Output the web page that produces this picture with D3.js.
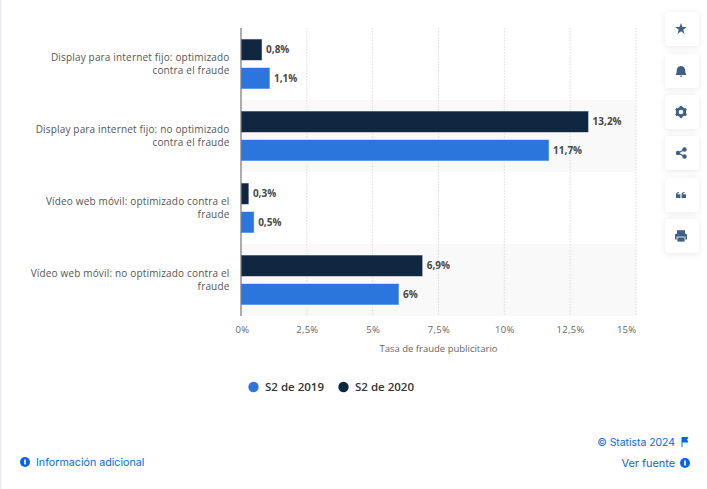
<!DOCTYPE html>
<html>
<head>
<meta charset="utf-8">
<script src="https://cdn.jsdelivr.net/npm/d3@7"></script>
<style>
    html, body { margin: 0; padding: 0; background: #fff; }
    #chart { position: absolute; left: 0; top: 0; }
    text { font-family: "Open Sans", sans-serif; }
    .domain { display: none; }
</style>
</head>
<body>
<svg id="chart" width="707" height="489"></svg>
<script>
'use strict';

const categories = [
    ['Display para internet fijo: optimizado', 'contra el fraude'],
    ['Display para internet fijo: no optimizado', 'contra el fraude'],
    ['Vídeo web móvil: optimizado contra el', 'fraude'],
    ['Vídeo web móvil: no optimizado contra el', 'fraude']
];
const values2020 = [0.8, 13.2, 0.3, 6.9];
const values2019 = [1.1, 11.7, 0.5, 6];
const seriesNames = ['S2 de 2019', 'S2 de 2020'];
const xTicks = [0, 2.5, 5, 7.5, 10, 12.5, 15];
const xTitle = 'Tasa de fraude publicitario';

const BLUE = '#2a76dd';
const NAVY = '#0f2740';
const svg = d3.select('#chart');

const fmt = v => String(v).replace('.', ',') + '%';

const x = d3.scaleLinear().domain([0, 15]).range([241, 636]);
const y = d3.scaleBand().domain(d3.range(categories.length)).range([28, 316]);
const inner = d3.scaleBand().domain(['s2020', 's2019']).range([0, y.bandwidth()]).paddingInner(0.245).paddingOuter(0.386);

// card edge
svg.append('rect').attr('x', 0).attr('y', 0).attr('width', 1.5).attr('height', 489).attr('fill', '#eceef4');

// alternating bands
svg.append('g').selectAll('rect')
    .data(d3.range(categories.length).filter(i => i % 2 === 1))
    .join('rect')
    .attr('x', x(0)).attr('y', i => y(i))
    .attr('width', x(15) - x(0)).attr('height', y.bandwidth())
    .attr('fill', '#f9f9f9');

// x axis and grid
const xAxis = svg.append('g')
    .attr('transform', 'translate(0,316)')
    .call(d3.axisBottom(x).tickValues(xTicks).tickSize(0).tickPadding(10).tickFormat(fmt));
xAxis.selectAll('text')
    .attr('font-size', 9.5).attr('fill', '#666').attr('letter-spacing', 0.3);
xAxis.selectAll('.tick text')
    .attr('text-anchor', 'middle');
xAxis.select('.tick:last-of-type text').attr('text-anchor', 'end').attr('dx', 0);
xAxis.select('.tick:first-of-type text').attr('text-anchor', 'middle').attr('dx', 1);

svg.append('g').selectAll('line')
    .data(xTicks.slice(1))
    .join('line')
    .attr('x1', d => x(d)).attr('x2', d => x(d))
    .attr('y1', 28).attr('y2', 316)
    .attr('stroke', '#dcdcdc').attr('stroke-dasharray', '1.5,1.5');

// bars
function drawBars(values, key, colour) {
    const g = svg.append('g');
    g.selectAll('rect')
        .data(values)
        .join('rect')
        .attr('x', x(0)).attr('y', (d, i) => y(i) + inner(key))
        .attr('width', d => x(d) - x(0)).attr('height', inner.bandwidth())
        .attr('fill', colour).attr('stroke', '#fff').attr('stroke-opacity', 0.55);
    g.selectAll('text')
        .data(values)
        .join('text')
        .attr('x', d => x(d) + 4).attr('y', (d, i) => y(i) + inner(key) + inner.bandwidth() / 2)
        .attr('dy', '0.35em')
        .attr('font-size', 10).attr('font-weight', 700).attr('fill', '#484848')
        .text(fmt);
}
drawBars(values2020, 's2020', NAVY);
drawBars(values2019, 's2019', BLUE);

// y axis line
svg.append('line').attr('x1', x(0)).attr('x2', x(0)).attr('y1', 28).attr('y2', 316)
    .attr('stroke', '#5b5b5b').attr('stroke-width', 1);

// category labels
svg.append('g').selectAll('text')
    .data(categories)
    .join('text')
    .attr('text-anchor', 'end')
    .attr('font-size', 10).attr('fill', '#555').attr('letter-spacing', 0.17)
    .attr('y', (d, i) => y(i) + y.bandwidth() / 2 - 3.5)
    .each(function(d) {
        d3.select(this).selectAll('tspan').data(d).join('tspan')
            .attr('x', 229.5).attr('dy', (t, i) => i ? 13 : 0).text(t => t);
    });

// axis title
svg.append('text').attr('x', 438.5).attr('y', 351.5).attr('text-anchor', 'middle')
    .attr('font-size', 9.5).attr('fill', '#666').attr('letter-spacing', 0)
    .text(xTitle);

// legend
const legendX = [253.5, 343.5];
const legend = svg.append('g').selectAll('g')
    .data(seriesNames)
    .join('g')
    .attr('transform', (d, i) => 'translate(' + legendX[i] + ',387)');
legend.append('circle').attr('r', 5.2).attr('fill', (d, i) => [BLUE, NAVY][i]);
legend.append('text').attr('x', 11.5).attr('dy', '0.35em')
    .attr('font-size', 11.5).attr('font-weight', 600).attr('fill', '#333').attr('letter-spacing', 0)
    .text(d => d);

// footer
const LINK = '#0666e5';
function infoIcon(cx, cy) {
    const g = svg.append('g').attr('transform', 'translate(' + cx + ',' + cy + ')');
    g.append('circle').attr('r', 5).attr('fill', LINK);
    g.append('rect').attr('x', -0.8).attr('y', -2.5).attr('width', 1.6).attr('height', 5).attr('fill', '#fff');
}
function footerText(label, px, py, anchor, size) {
    svg.append('text').attr('x', px).attr('y', py).attr('text-anchor', anchor).attr('font-size', size).attr('fill', LINK)
        .attr('style', 'font-family: Inter, sans-serif').text(label);
}
infoIcon(25, 462);
footerText('Información adicional', 36, 465.5, 'start', 10.7);
footerText('© Statista 2024', 675, 446, 'end', 10.4);
svg.append('path').attr('d', 'M682 437v10M682 437.5h6l-1.5 2.2 1.5 2.3h-6').attr('fill', LINK).attr('stroke', LINK).attr('stroke-width', 1);
footerText('Ver fuente', 675, 467, 'end', 10.9);
infoIcon(685, 463);

// side buttons
const defs = svg.append('defs');
const blur = defs.append('filter').attr('id', 'soft').attr('x', '-40%').attr('y', '-40%').attr('width', '180%').attr('height', '180%');
blur.append('feDropShadow').attr('dx', 0).attr('dy', 1).attr('stdDeviation', 3).attr('flood-color', '#000').attr('flood-opacity', 0.09);

const ICON = '#3f5f85';
const buttonTops = [12, 54, 95, 136, 178, 219];
const icons = [
    g => g.append('path').attr('d', d3.symbol(d3.symbolStar, 42)()).attr('fill', ICON),
    g => {
        g.append('path').attr('transform', 'scale(1.12)').attr('d', 'M-5 3.5c1.5-1.5 1-3 1.3-4.8C-3.3-3.6-1.5-4.5 0-4.5s3.3.9 3.7 3.2C4 .5 3.5 2 5 3.5z').attr('fill', ICON);
        g.append('path').attr('d', 'M-1.5 4.8h3L0 6.2z').attr('fill', ICON);
    },
    g => {
        g.append('circle').attr('r', 3.7).attr('fill', 'none').attr('stroke', ICON).attr('stroke-width', 2.8);
        g.selectAll('rect').data(d3.range(6)).join('rect')
            .attr('x', -1.3).attr('y', -6.1).attr('width', 2.6).attr('height', 2)
            .attr('fill', ICON).attr('transform', d => 'rotate(' + d * 60 + ')');
    },
    g => {
        g.append('path').attr('d', 'M3.5-3.5L-3 0L3.5 3.5').attr('fill', 'none').attr('stroke', ICON).attr('stroke-width', 1.3);
        [[3.5, -3.5], [-3, 0], [3.5, 3.5]].forEach(p => {
            g.append('circle').attr('cx', p[0]).attr('cy', p[1]).attr('r', 2.2).attr('fill', ICON);
        });
    },
    g => {
        [-2.8, 2.8].forEach(dx => {
            g.append('path').attr('transform', 'translate(' + dx + ',0)')
                .attr('d', 'M-2.2-.4C-2.2-2 -1.2-2.8.8-3v1C-.3-1.9-.8-1.5-.9-.8H2.2V3H-2.2z').attr('fill', ICON);
        });
    },
    g => {
        g.append('path').attr('d', 'M-4-5.8h8v3.8h-8z').attr('fill', ICON);
        g.append('rect').attr('x', -6).attr('y', -2.3).attr('width', 12).attr('height', 6).attr('rx', 1.2).attr('fill', ICON);
        g.append('rect').attr('x', -4).attr('y', 1).attr('width', 8).attr('height', 5).attr('fill', ICON).attr('stroke', '#fff').attr('stroke-width', 0.8);
    }
];
buttonTops.forEach((top, i) => {
    svg.append('rect').attr('x', 665).attr('y', top).attr('width', 34).attr('height', 34).attr('rx', 4)
        .attr('fill', '#fff').attr('filter', 'url(#soft)');
    const g = svg.append('g').attr('transform', 'translate(681,' + (top + 17) + ')');
    icons[i](g);
});
</script>
</body>
</html>
